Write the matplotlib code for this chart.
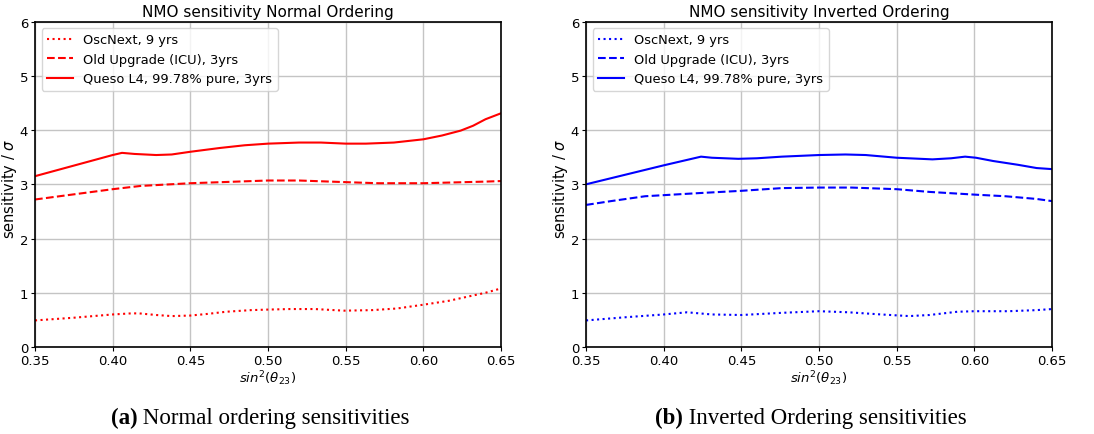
import matplotlib
matplotlib.use("Agg")
import matplotlib.pyplot as plt

# sin^2(theta_23) sample points and sensitivities (in sigma)
no_queso_x = [0.35, 0.40, 0.406, 0.414, 0.428, 0.438, 0.45, 0.469, 0.485, 0.50,
              0.52, 0.534, 0.55, 0.563, 0.581, 0.60, 0.612, 0.624, 0.632, 0.64, 0.65]
no_queso_y = [3.15, 3.54, 3.58, 3.56, 3.54, 3.55, 3.60, 3.67, 3.72, 3.75,
              3.77, 3.77, 3.75, 3.75, 3.77, 3.83, 3.90, 3.99, 4.08, 4.20, 4.31]

no_icu_x = [0.35, 0.40, 0.418, 0.45, 0.50, 0.52, 0.55, 0.571, 0.60, 0.64, 0.65]
no_icu_y = [2.72, 2.91, 2.97, 3.02, 3.07, 3.07, 3.04, 3.02, 3.02, 3.05, 3.06]

no_osc_x = [0.35, 0.375, 0.40, 0.412, 0.417, 0.428, 0.438, 0.45, 0.461, 0.473, 0.489,
            0.50, 0.514, 0.53, 0.549, 0.567, 0.583, 0.60, 0.616, 0.632, 0.64, 0.65]
no_osc_y = [0.49, 0.54, 0.60, 0.62, 0.62, 0.59, 0.57, 0.58, 0.61, 0.65, 0.68,
            0.69, 0.70, 0.70, 0.67, 0.68, 0.71, 0.78, 0.85, 0.95, 1.00, 1.08]

io_queso_x = [0.35, 0.40, 0.424, 0.431, 0.448, 0.46, 0.476, 0.50, 0.517, 0.53,
              0.55, 0.573, 0.585, 0.594, 0.601, 0.612, 0.628, 0.64, 0.65]
io_queso_y = [3.00, 3.35, 3.51, 3.49, 3.47, 3.48, 3.51, 3.54, 3.55, 3.54,
              3.49, 3.46, 3.48, 3.51, 3.49, 3.43, 3.36, 3.30, 3.28]

io_icu_x = [0.35, 0.366, 0.388, 0.40, 0.424, 0.45, 0.476, 0.50, 0.521, 0.55,
            0.571, 0.60, 0.62, 0.64, 0.65]
io_icu_y = [2.62, 2.69, 2.78, 2.80, 2.84, 2.88, 2.93, 2.94, 2.94, 2.91,
            2.86, 2.81, 2.78, 2.73, 2.69]

io_osc_x = [0.35, 0.376, 0.40, 0.415, 0.431, 0.45, 0.476, 0.50, 0.519, 0.54,
            0.558, 0.571, 0.589, 0.60, 0.622, 0.64, 0.65]
io_osc_y = [0.49, 0.55, 0.60, 0.64, 0.60, 0.59, 0.63, 0.66, 0.64, 0.60,
            0.57, 0.59, 0.65, 0.66, 0.66, 0.68, 0.70]

labels = ["OscNext, 9 yrs", "Old Upgrade (ICU), 3yrs", "Queso L4, 99.78% pure, 3yrs"]
titles = ["NMO sensitivity Normal Ordering", "NMO sensitivity Inverted Ordering"]
captions = [("(a)", " Normal ordering sensitivities"),
            ("(b)", " Inverted Ordering sensitivities")]
xticks = [0.35, 0.40, 0.45, 0.50, 0.55, 0.60, 0.65]
yticks = [0, 1, 2, 3, 4, 5, 6]

panels = [
    ("red", (no_osc_x, no_osc_y), (no_icu_x, no_icu_y), (no_queso_x, no_queso_y)),
    ("blue", (io_osc_x, io_osc_y), (io_icu_x, io_icu_y), (io_queso_x, io_queso_y)),
]

fig = plt.figure(figsize=(10.94, 4.35), dpi=100)
lefts = [0.032, 0.5357]
width = 0.426
bottom, height = 0.20, 0.748

axes = []
for i, (color, osc, icu, queso) in enumerate(panels):
    ax = fig.add_axes([lefts[i], bottom, width, height])
    ax.plot(osc[0], osc[1], color=color, ls=":", lw=1.5, label=labels[0])
    ax.plot(icu[0], icu[1], color=color, ls="--", lw=1.5, label=labels[1])
    ax.plot(queso[0], queso[1], color=color, ls="-", lw=1.5, label=labels[2])
    ax.set_xlim(0.35, 0.65)
    ax.set_ylim(0, 6)
    ax.set_xticks(xticks)
    ax.set_xticklabels([f"{t:.2f}" for t in xticks])
    ax.set_yticks(yticks)
    ax.tick_params(labelsize=9.5, length=3, pad=2)
    ax.grid(True, color="#c4c4c4", lw=1.0)
    for s in ax.spines.values():
        s.set_linewidth(1.2)
    ax.set_title(titles[i], fontsize=11, pad=4)
    ax.set_xlabel(r"$sin^2(\theta_{23})$", fontsize=9.5, labelpad=1)
    ax.set_ylabel(r"sensitivity / $\sigma$", fontsize=10.5)
    ax.yaxis.set_label_coords(-0.034, 0.49)
    ax.legend(loc="upper left", fontsize=9.4, handlelength=2.0,
              borderaxespad=0.5, framealpha=0.8)
    axes.append(ax)

# sub-figure captions: bold tag followed by regular serif text
renderer = fig.canvas.get_renderer()
cap_centers = [0.238, 0.741]
for (tag, rest), cx in zip(captions, cap_centers):
    t1 = fig.text(0, 0.039, tag, family="Liberation Serif", weight="bold",
                  fontsize=16.5, va="center", ha="left")
    t2 = fig.text(0, 0.039, rest, family="Liberation Serif",
                  fontsize=16.5, va="center", ha="left")
    w1 = t1.get_window_extent(renderer).width / fig.bbox.width
    w2 = t2.get_window_extent(renderer).width / fig.bbox.width
    x0 = cx - (w1 + w2) / 2
    t1.set_x(x0)
    t2.set_x(x0 + w1)

fig.savefig("out.png", dpi=100)
